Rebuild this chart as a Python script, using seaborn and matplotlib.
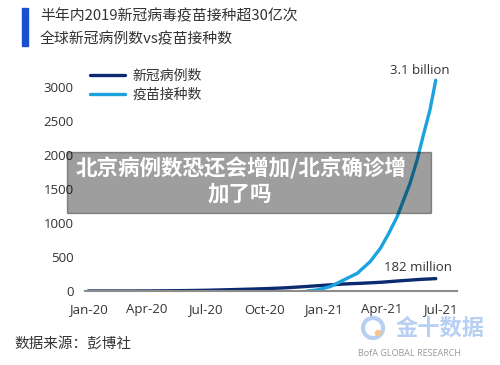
import pandas as pd
import seaborn as sns
import matplotlib.pyplot as plt
import matplotlib.dates as mdates
from matplotlib.patches import Rectangle, Ellipse

# cumulative global cases, millions
case_dates = ["2020-01-01", "2020-02-01", "2020-03-01", "2020-04-01", "2020-05-01",
              "2020-06-01", "2020-07-01", "2020-08-01", "2020-09-01", "2020-10-01",
              "2020-11-01", "2020-12-01", "2021-01-01", "2021-02-01", "2021-03-01",
              "2021-04-01", "2021-05-01", "2021-06-01", "2021-06-24"]
case_values = [0, 0.01, 0.09, 0.9, 3.3, 6.2, 10.5, 17.6, 25.5, 34,
               46, 63.5, 84, 103, 114, 129, 151, 171, 182]

# cumulative vaccine doses, millions
vax_dates = ["2020-12-06", "2020-12-21", "2021-01-11", "2021-02-01", "2021-02-22",
             "2021-03-14", "2021-03-30", "2021-04-12", "2021-04-25", "2021-05-05",
             "2021-05-15", "2021-05-26", "2021-06-05", "2021-06-15", "2021-06-24"]
vax_values = [0, 15, 64, 162, 260, 431, 628, 848, 1093, 1338,
              1584, 1926, 2304, 2662, 3100]

series_names = ["新冠病例数", "疫苗接种数"]
y_ticks = [0, 500, 1000, 1500, 2000, 2500, 3000]
x_ticks = ["2020-01-01", "2020-04-01", "2020-07-01", "2020-10-01",
           "2021-01-01", "2021-04-01", "2021-07-01"]

df = pd.concat([
    pd.DataFrame({"date": pd.to_datetime(case_dates), "value": case_values, "series": series_names[0]}),
    pd.DataFrame({"date": pd.to_datetime(vax_dates), "value": vax_values, "series": series_names[1]}),
])

sns.set_theme(style="white")
plt.rcParams["font.family"] = ["Noto Sans CJK SC", "DejaVu Sans"]

navy = "#0b2a6f"
sky = "#1ca3dd"

fig = plt.figure(figsize=(5, 3.65), dpi=100)
ax = fig.add_axes([85 / 500, (365 - 291) / 365, 372 / 500, 217.6 / 365])

sns.lineplot(data=df, x="date", y="value", hue="series", palette=[navy, sky],
             ax=ax, linewidth=2.4, legend=True)

ax.set_ylim(0, 3200)
ax.set_xlim(pd.Timestamp("2019-12-27"), pd.Timestamp("2021-07-27"))
ax.set_yticks(y_ticks)
ax.set_xticks(pd.to_datetime(x_ticks))
ax.xaxis.set_major_formatter(mdates.DateFormatter("%b-%y"))
ax.set_xlabel("")
ax.set_ylabel("")
for side in ["left", "top", "right"]:
    ax.spines[side].set_visible(False)
ax.spines["bottom"].set_color("#8c8c8c")
ax.spines["bottom"].set_linewidth(1.5)
ax.tick_params(axis="both", length=0, colors="#333333")
ax.tick_params(axis="y", pad=8)
ax.tick_params(axis="x", pad=9)
for lab in ax.get_xticklabels() + ax.get_yticklabels():
    lab.set_fontfamily(["Open Sans", "DejaVu Sans"])
    lab.set_fontsize(9.5)

leg = ax.legend(loc="upper left", bbox_to_anchor=(0.013, 1.02), frameon=False,
                fontsize=10, handlelength=2.5, handletextpad=0.6,
                labelspacing=0.35, borderpad=0, borderaxespad=0)
for t in leg.get_texts():
    t.set_color("#333333")
for h in leg.get_lines():
    h.set_linewidth(2.4)

ax.annotate("3.1 billion", xy=(pd.Timestamp(vax_dates[-1]), vax_values[-1]),
            xytext=(-16, 3), textcoords="offset pixels", ha="center", va="bottom",
            fontsize=9.5, color="#333333", family=["Open Sans", "DejaVu Sans"])
ax.annotate("182 million", xy=(pd.Timestamp(case_dates[-1]), case_values[-1]),
            xytext=(-18, 5), textcoords="offset pixels", ha="center", va="bottom",
            fontsize=9.5, color="#333333", family=["Open Sans", "DejaVu Sans"])

# title block
fig.add_artist(Rectangle((22 / 500, (365 - 46) / 365), 6 / 500, 38 / 365,
                         transform=fig.transFigure, color="#1a4fd0"))
fig.text(40 / 500, 1 - 16 / 365, "半年内2019新冠病毒疫苗接种超30亿次",
         fontsize=10.7, color="#333333", va="center", ha="left")
fig.text(40 / 500, 1 - 39 / 365, "全球新冠病例数vs疫苗接种数",
         fontsize=10.7, color="#333333", va="center", ha="left")

# source & footer
fig.text(14 / 500, 1 - 344 / 365, "数据来源：彭博社", fontsize=10.5,
         color="#333333", va="center", ha="left")
fig.text(358 / 500, 1 - 354 / 365, "BofA GLOBAL RESEARCH", fontsize=6.5,
         color="#999999", va="center", ha="left", family=["Open Sans", "DejaVu Sans"])

# watermark
fig.add_artist(Ellipse((373 / 500, 1 - 328 / 365), 20 / 500, 20 / 365,
                       transform=fig.transFigure, fill=False, ec="#b7cff3", lw=3))
fig.add_artist(Ellipse((378 / 500, 1 - 333 / 365), 5 / 500, 5 / 365,
                       transform=fig.transFigure, color="#f5c58a"))
fig.text(440 / 500, 1 - 328 / 365, "金十数据", fontsize=16, fontweight="bold",
         color="#b7cff3", va="center", ha="center")

# overlay banner
fig.add_artist(Rectangle((67 / 500, (365 - 213) / 365), 364 / 500, 61 / 365,
                         transform=fig.transFigure, color="black", alpha=0.38))
fig.text(241 / 500, 1 - 168 / 365, "北京病例数恐还会增加/北京确诊增",
         fontsize=15.5, fontweight="bold", color="white", va="center", ha="center")
fig.text(240 / 500, 1 - 194 / 365, "加了吗",
         fontsize=15.5, fontweight="bold", color="white", va="center", ha="center")

fig.savefig("out.png", dpi=100)
